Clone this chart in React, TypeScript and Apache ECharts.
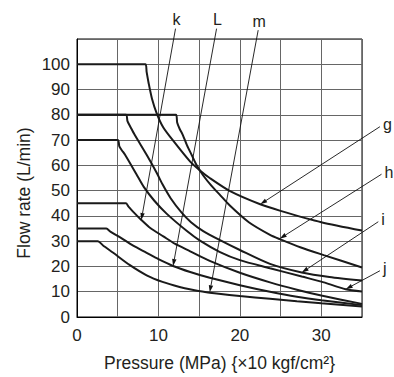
import React, { useEffect, useRef } from "react";
import * as echarts from "echarts";

// Curve names (labels) in drawing order
const curveNames = ["g", "h", "i", "j", "k", "L", "m"];

// Flow rate (L/min) vs pressure (MPa)
const curveG = [[0, 100], [8.4, 100], [8.55, 97], [8.8, 92.5], [9.2, 86.5], [9.8, 80.5], [10.6, 75], [12, 69], [13.9, 61.5], [15.1, 58], [16.3, 55], [18.8, 49.8], [22.5, 44.6], [25, 42], [30, 37.5], [35, 34.2]];
const curveH = [[0, 80], [12.15, 80], [12.3, 77], [12.6, 74.5], [13, 72], [13.5, 68], [14.1, 64], [14.7, 60], [15.5, 56], [16.5, 52], [17.5, 48.5], [18.8, 44], [21.1, 37.5], [23.7, 32.5], [24.9, 30.8], [27.5, 27.5], [30.3, 24.5], [35, 19.6]];
const curveI = [[0, 80], [6.0, 80], [6.2, 77.5], [6.6, 75], [7.1, 72], [8.55, 64.2], [9.8, 57], [10.5, 52.5], [11.5, 47], [12.8, 41.5], [14, 37.5], [15.5, 34], [17.5, 30.5], [20, 26.5], [23.7, 21], [27.6, 17.6], [31, 15.8], [35, 14.4]];
const curveJ = [[0, 70], [5.0, 70], [5.2, 67.5], [5.5, 66], [5.9, 64.2], [7.3, 56.5], [8.2, 51.5], [9.5, 46], [11, 40.9], [13.5, 34], [15.1, 30.2], [17.5, 25.8], [20, 22.5], [23.7, 19.3], [27.6, 16], [30, 14], [33, 11], [35, 10.1]];
const curveK = [[0, 45], [6.0, 45], [6.3, 43.8], [7, 41.3], [7.9, 38.4], [9, 35.2], [10.6, 31.9], [12, 29], [13.9, 26], [16.3, 22.2], [20, 17.5], [23.7, 13.7], [27, 10.8], [30, 8.5], [35, 5.2]];
const curveL = [[0, 35], [3.6, 35], [4.1, 33.8], [5.3, 31.5], [6.9, 28.2], [8.55, 25.4], [10, 22.9], [11.8, 20.2], [13.9, 17.8], [16.3, 15.5], [20, 12.6], [23.7, 10], [27, 8], [30, 6.6], [35, 4.7]];
const curveM = [[0, 30], [2.55, 30], [3.2, 28.3], [4.45, 25.4], [6.5, 20.5], [8.55, 16.5], [10.5, 13.9], [12.6, 11.9], [14, 10.9], [16.3, 9.6], [20, 8.3], [23.7, 7.2], [27, 6.2], [30, 5.4], [35, 4.2]];

// Leader lines: from the label (outside the grid) to the point on the curve
const leaderFrom = [[37.2, 75.3], [37.4, 56.5], [37.0, 37.7], [37.2, 18.3], [12.1, 114.1], [17.14, 114.1], [22.25, 113.5]];
const leaderTo = [[22.5, 44.6], [24.9, 31], [27.6, 17.6], [33, 11], [7.9, 38.4], [11.8, 20.2], [16.3, 9.8]];

const xAxisTitle = "Pressure (MPa) {\u00d710 kgf/cm\u00b2}";
const yAxisTitle = "Flow rate (L/min)";

const FONT = "'Liberation Sans', Arial, Helvetica, sans-serif";
const TEXT = "#231f20";

export default function App() {
  const ref = useRef<HTMLDivElement>(null);

  useEffect(() => {
    if (!ref.current) return;
    const chart = echarts.init(ref.current, null, { renderer: "svg" });
    const curves = [curveG, curveH, curveI, curveJ, curveK, curveL, curveM];

    const series: any[] = curves.map((c, i) => ({
      type: "line",
      name: curveNames[i],
      data: c,
      symbol: "none",
      smooth: 0.25,
      silent: true,
      z: 3,
      lineStyle: { color: "#1a1a1a", width: 2 },
    }));

    series.push({
      type: "custom",
      clip: false,
      silent: true,
      z: 4,
      encode: { x: [0, 2], y: [1, 3] },
      data: curveNames.map((_, i) => [leaderFrom[i][0], leaderFrom[i][1], leaderTo[i][0], leaderTo[i][1]]),
      renderItem: (params: any, api: any) => {
        const idx = params.dataIndex;
        const p1 = api.coord([api.value(0), api.value(1)]);
        const p2 = api.coord([api.value(2), api.value(3)]);
        const dx = p2[0] - p1[0];
        const dy = p2[1] - p1[1];
        const len = Math.hypot(dx, dy) || 1;
        const ux = dx / len;
        const uy = dy / len;
        const AL = 7;
        const AW = 2.2;
        const bx = p2[0] - ux * AL;
        const by = p2[1] - uy * AL;
        const isTop = p1[1] < params.coordSys.y;
        return {
          type: "group",
          children: [
            {
              type: "line",
              shape: { x1: p1[0], y1: p1[1], x2: bx, y2: by },
              style: { stroke: "#111", lineWidth: 0.9 },
            },
            {
              type: "polygon",
              shape: { points: [[p2[0], p2[1]], [bx - uy * AW, by + ux * AW], [bx + uy * AW, by - ux * AW]] },
              style: { fill: "#111" },
            },
            {
              type: "text",
              x: isTop ? p1[0] + 1 : p1[0] + 3,
              y: isTop ? p1[1] - 1 : p1[1] - 2,
              style: {
                text: curveNames[idx],
                fill: TEXT,
                font: `16px ${FONT}`,
                align: isTop ? "center" : "left",
                verticalAlign: isTop ? "bottom" : "middle",
              },
            },
          ],
        };
      },
    });

    chart.setOption({
      animation: false,
      backgroundColor: "#fff",
      grid: {
        left: 77,
        right: 32,
        top: 39,
        bottom: 55,
        show: true,
        borderColor: "#000",
        borderWidth: 1,
        backgroundColor: "transparent",
      },
      xAxis: {
        type: "value",
        min: 0,
        max: 35,
        interval: 5,
        axisLine: { show: true, lineStyle: { color: "#000", width: 1 } },
        axisTick: { show: false },
        axisLabel: {
          formatter: (v: number) => (v % 10 === 0 ? String(v) : ""),
          fontSize: 17,
          fontFamily: FONT,
          color: TEXT,
          margin: 10,
        },
        splitLine: { show: true, lineStyle: { color: "#666", width: 1 } },
        name: xAxisTitle,
        nameLocation: "middle",
        nameGap: 37,
        nameTextStyle: { fontSize: 17.5, fontFamily: FONT, color: TEXT },
      },
      yAxis: {
        type: "value",
        min: 0,
        max: 110,
        interval: 10,
        axisLine: { show: true, lineStyle: { color: "#000", width: 1 } },
        axisTick: { show: false },
        axisLabel: {
          formatter: (v: number) => (v <= 100 ? String(v) : ""),
          fontSize: 17,
          fontFamily: FONT,
          color: TEXT,
          margin: 7,
        },
        splitLine: { show: true, lineStyle: { color: "#666", width: 1 } },
      },
      graphic: [
        {
          type: "text",
          x: 23.5,
          y: 193,
          rotation: Math.PI / 2,
          style: {
            text: yAxisTitle,
            font: `17.5px ${FONT}`,
            fill: TEXT,
            align: "center",
            verticalAlign: "middle",
          },
        },
      ],
      series,
    });

    return () => chart.dispose();
  }, []);

  return (
    <div
      ref={ref}
      style={{ position: "fixed", left: 0, top: 0, width: 394, height: 377, background: "#fff" }}
    />
  );
}
